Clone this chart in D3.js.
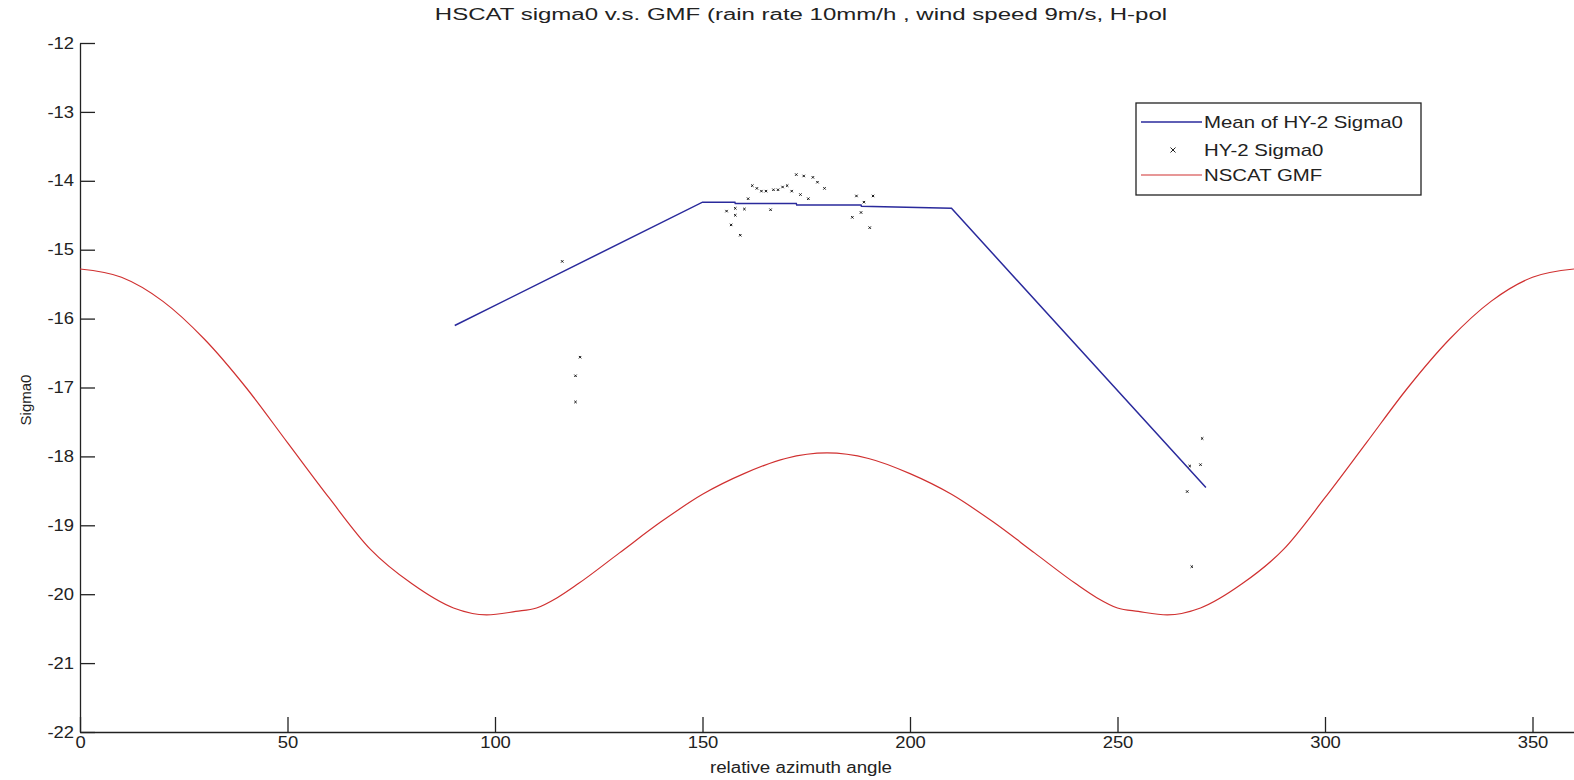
<!DOCTYPE html>
<html>
<head>
<meta charset="utf-8">
<script src="https://cdn.jsdelivr.net/npm/d3@7"></script>
<style>
  body { margin: 0; background: #fff; }
  text { font-family: "Liberation Sans", Arial, sans-serif; fill: #222; }
</style>
</head>
<body>
<div id="chart"></div>
<script>
// Set up dimensions
const width = 1574;
const height = 780;

// NSCAT GMF curve (azimuth, sigma0 dB)
const gmfAngle = [0, 10, 20, 30, 40, 50, 60, 70, 80, 90, 98, 105, 110, 115, 120, 130, 140, 150, 160, 170, 180,
    190, 200, 210, 220, 230, 240, 245, 250, 255, 262, 270, 280, 290, 300, 310, 320, 330, 340, 350, 360];
const gmfSigma = [-15.28, -15.40, -15.75, -16.30, -17.00, -17.80, -18.60, -19.35, -19.85, -20.20, -20.30, -20.25, -20.20, -20.05, -19.85, -19.40, -18.95, -18.55, -18.25, -18.03, -17.95,
    -18.03, -18.25, -18.55, -18.95, -19.40, -19.85, -20.05, -20.20, -20.25, -20.30, -20.20, -19.85, -19.35, -18.60, -17.80, -17.00, -16.30, -15.75, -15.40, -15.28];

// Mean of HY-2 sigma0
const meanAngle = [90.3, 150, 157.8, 157.9, 172.6, 172.7, 188.2, 188.3, 210, 271.3];
const meanSigma = [-16.10, -14.31, -14.31, -14.33, -14.33, -14.35, -14.35, -14.37, -14.40, -18.45];

// HY-2 sigma0 samples
const hyAngle = [116.2, 120.5, 119.4, 119.4,
    155.8, 157.9, 160.1, 157.9, 156.9, 159.1, 161.0, 162.0, 163.1, 164.2, 165.3, 167.1, 168.2, 169.3,
    170.4, 171.5, 172.6, 173.6, 174.4, 175.5, 176.6, 177.7, 179.4, 166.4,
    187.1, 191.1, 188.9, 188.2, 186.1, 190.3,
    270.4, 270.0, 267.4, 266.8, 267.9];
const hySigma = [-15.17, -16.56, -16.83, -17.21,
    -14.44, -14.40, -14.41, -14.50, -14.64, -14.79, -14.26, -14.07, -14.11, -14.15, -14.15, -14.13, -14.13, -14.09,
    -14.07, -14.15, -13.91, -14.20, -13.93, -14.26, -13.95, -14.02, -14.11, -14.42,
    -14.22, -14.22, -14.31, -14.46, -14.53, -14.68,
    -17.74, -18.12, -18.14, -18.51, -19.60];

const xTicks = [0, 50, 100, 150, 200, 250, 300, 350];
const yTicks = [-22, -21, -20, -19, -18, -17, -16, -15, -14, -13, -12];

const legendLabels = ['Mean of HY-2 Sigma0', 'HY-2 Sigma0', 'NSCAT GMF'];

const margin = {left: 80, top: 43, bottom: 732};

// MATLAB text in the picture is drawn wider than Arial
function widen(sel, k) {
    sel.each(function() {
        const len = this.getComputedTextLength();
        d3.select(this).attr('textLength', len * k).attr('lengthAdjust', 'spacingAndGlyphs');
    });
}

const svg = d3.select('#chart')
    .append('svg')
    .attr('width', width)
    .attr('height', height);

const x = d3.scaleLinear().domain([0, 360]).range([margin.left, width]);
const y = d3.scaleLinear().domain([-22, -12]).range([margin.bottom, margin.top]);

// Axes with inward ticks
const xAxis = svg.append('g')
    .attr('transform', `translate(0,${margin.bottom})`)
    .call(d3.axisBottom(x).tickValues(xTicks).tickFormat(d => String(d))
        .tickSizeInner(-15).tickSizeOuter(0).tickPadding(5));
const yAxis = svg.append('g')
    .attr('transform', `translate(${margin.left},0)`)
    .call(d3.axisLeft(y).tickValues(yTicks).tickFormat(d => String(d))
        .tickSizeInner(-15).tickSizeOuter(0).tickPadding(6));

[xAxis, yAxis].forEach(g => {
    g.selectAll('path, line').attr('stroke', '#222').attr('stroke-width', 1.3);
    g.selectAll('text').style('font-size', '16px').attr('fill', '#222').call(widen, 1.15);
});

// Axis labels
svg.append('text')
    .attr('x', 801).attr('y', 773)
    .attr('text-anchor', 'middle')
    .style('font-size', '16px')
    .text('relative azimuth angle')
    .call(widen, 1.17);

svg.append('text')
    .attr('transform', 'translate(31,400) rotate(-90)')
    .attr('text-anchor', 'middle')
    .style('font-size', '15px')
    .text('Sigma0');

// Title
svg.append('text')
    .attr('x', 801).attr('y', 20)
    .attr('text-anchor', 'middle')
    .style('font-size', '16px')
    .text('HSCAT sigma0 v.s. GMF (rain rate 10mm/h , wind speed 9m/s, H-pol')
    .call(widen, 1.5);

// NSCAT GMF line
const gmfLine = d3.line()
    .x((d, i) => x(gmfAngle[i]))
    .y(d => y(d))
    .curve(d3.curveMonotoneX);
svg.append('path')
    .attr('d', gmfLine(gmfSigma))
    .attr('fill', 'none')
    .attr('stroke', '#d03030')
    .attr('stroke-width', 1.2);

// Mean line
const meanLine = d3.line()
    .x((d, i) => x(meanAngle[i]))
    .y(d => y(d));
svg.append('path')
    .attr('d', meanLine(meanSigma))
    .attr('fill', 'none')
    .attr('stroke', '#2a2a9c')
    .attr('stroke-width', 1.5);

// Scatter x markers
const cross = 1.2;
svg.append('g')
    .selectAll('path')
    .data(hySigma)
    .enter()
    .append('path')
    .attr('d', (d, i) => {
        const cx = x(hyAngle[i]), cy = y(d);
        return `M${cx - cross},${cy - cross}L${cx + cross},${cy + cross}M${cx - cross},${cy + cross}L${cx + cross},${cy - cross}`;
    })
    .attr('stroke', '#111')
    .attr('stroke-width', 1);

// Legend
const legend = svg.append('g').attr('transform', 'translate(1136,103)');
legend.append('rect')
    .attr('width', 285).attr('height', 92)
    .attr('fill', '#fff')
    .attr('stroke', '#222')
    .attr('stroke-width', 1.3);
const rowY = [19, 47, 72];
legend.append('line').attr('x1', 5).attr('x2', 66).attr('y1', rowY[0]).attr('y2', rowY[0])
    .attr('stroke', '#2a2a9c').attr('stroke-width', 1.5);
legend.append('path')
    .attr('d', `M${37 - 2.5},${rowY[1] - 2.5}L${37 + 2.5},${rowY[1] + 2.5}M${37 - 2.5},${rowY[1] + 2.5}L${37 + 2.5},${rowY[1] - 2.5}`)
    .attr('stroke', '#222').attr('stroke-width', 1);
legend.append('line').attr('x1', 5).attr('x2', 66).attr('y1', rowY[2]).attr('y2', rowY[2])
    .attr('stroke', '#d03030').attr('stroke-width', 1.2);
legend.selectAll('text.lab')
    .data(legendLabels)
    .enter()
    .append('text')
    .attr('class', 'lab')
    .attr('x', 68)
    .attr('y', (d, i) => rowY[i])
    .attr('dy', '0.35em')
    .style('font-size', '17px')
    .text(d => d)
    .call(widen, 1.2);
</script>
</body>
</html>
